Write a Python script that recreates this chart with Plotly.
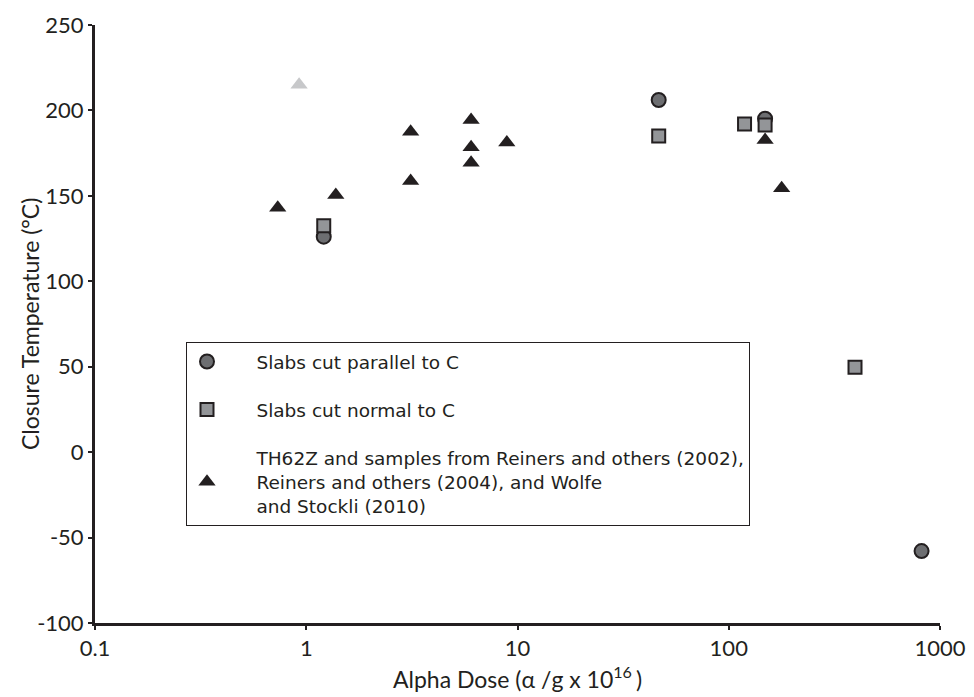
import plotly.graph_objects as go

# ---- data ----
parallel_x = [1.21, 46.6, 148.6, 818]
parallel_y = [126.1, 206.1, 195.2, -57.9]

normal_x = [1.21, 46.6, 118.8, 148.6, 396]
normal_y = [132.5, 185.0, 192.0, 191.5, 49.7]

tri_x = [0.733, 1.38, 3.12, 3.12, 6.03, 6.03, 6.03, 8.9, 148.6, 178]
tri_y = [143, 150.5, 187.5, 158.7, 194.4, 178.4, 169.4, 181.3, 182.7, 154.4]

grey_tri_x = [0.925]
grey_tri_y = [215]

x_tickvals = [0.1, 1, 10, 100, 1000]
x_ticktext = ["0.1", "1", "10", "100", "1000"]
y_tickvals = [-100, -50, 0, 50, 100, 150, 200, 250]
y_ticktext = ["-100", "-50", "0", "50", "100", "150", "200", "250"]

DARK = "#231f20"
PAD = "&nbsp;" * 5

fig = go.Figure()

fig.add_trace(go.Scatter(
    x=grey_tri_x, y=grey_tri_y, mode="markers", showlegend=False,
    marker=dict(symbol="triangle-up", size=15, color="#c7c8ca", line=dict(width=0)),
))

fig.add_trace(go.Scatter(
    x=parallel_x, y=parallel_y, mode="markers", name=PAD + "Slabs cut parallel to C",
    legendgroup="a", legendrank=1,
    marker=dict(symbol="circle", size=14, color="#6d6e71", line=dict(width=2, color=DARK)),
))
fig.add_trace(go.Scatter(
    x=tri_x, y=tri_y, mode="markers",
    name=(PAD + "TH62Z and samples from Reiners and others (2002),<br>"
          + PAD + "Reiners and others (2004), and Wolfe<br>"
          + PAD + "and Stockli (2010)"),
    legendgroup="c", legendrank=3,
    marker=dict(symbol="triangle-up", size=15, color=DARK, line=dict(width=0)),
))
fig.add_trace(go.Scatter(
    x=normal_x, y=normal_y, mode="markers", name=PAD + "Slabs cut normal to C",
    legendgroup="b", legendrank=2,
    marker=dict(symbol="square", size=13, color="#939598", line=dict(width=2, color=DARK)),
))

tick_font = dict(family="Lato, 'DejaVu Sans', sans-serif", size=22, color=DARK)
title_font = dict(family="Lato, 'DejaVu Sans', sans-serif", size=23, color=DARK)

fig.update_layout(
    width=974, height=697,
    margin=dict(l=95, r=34, t=25, b=74, autoexpand=False),
    paper_bgcolor="white", plot_bgcolor="white",
    font=dict(family="Lato, sans-serif", color=DARK),
    xaxis=dict(
        type="log", range=[-1, 3], automargin=False,
        tickvals=x_tickvals, ticktext=x_ticktext,
        showgrid=False, zeroline=False,
        showline=True, linecolor=DARK, linewidth=3,
        ticks="outside", ticklen=4, tickwidth=2, tickcolor=DARK,
        tickfont=tick_font,
    ),
    yaxis=dict(
        range=[-100, 250], automargin=False,
        tickvals=y_tickvals, ticktext=y_ticktext,
        showgrid=False, zeroline=False,
        showline=True, linecolor=DARK, linewidth=3,
        ticks="outside", ticklen=4, tickwidth=2, tickcolor=DARK,
        tickfont=tick_font,
    ),
    annotations=[
        dict(
            text="Closure Temperature (°C)", font=title_font,
            xref="paper", yref="paper", x=0, y=0.5,
            xanchor="center", yanchor="middle", xshift=-65,
            textangle=-90, showarrow=False,
        ),
        dict(
            text="Alpha Dose (α /g x 10<sup>16 </sup>)", font=title_font,
            xref="paper", yref="paper", x=0.5, y=0,
            xanchor="center", yanchor="middle", yshift=-54,
            showarrow=False,
        ),
    ],
    legend=dict(
        x=(186 - 95) / 845, y=(623 - 342) / 598,
        xanchor="left", yanchor="top",
        bordercolor=DARK, borderwidth=1, bgcolor="white",
        font=dict(family="'DejaVu Sans', sans-serif", size=18.5, color=DARK),
        tracegroupgap=21,
        traceorder="grouped",
    ),
)

fig.write_html("out.html")
